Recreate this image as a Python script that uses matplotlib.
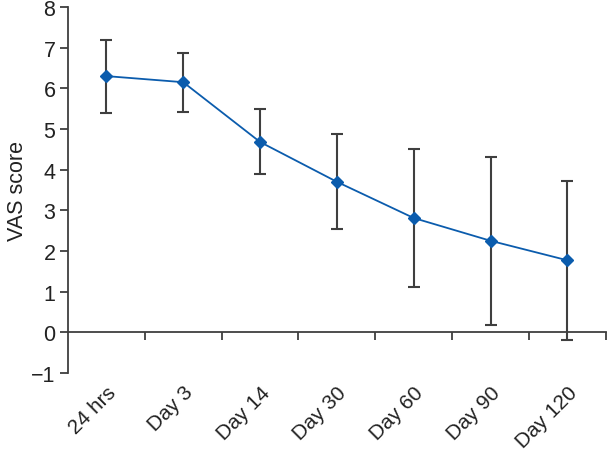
import matplotlib
matplotlib.use("Agg")
import matplotlib.pyplot as plt
import numpy as np

categories = ["24 hrs", "Day 3", "Day 14", "Day 30", "Day 60", "Day 90", "Day 120"]
means = [6.30, 6.15, 4.68, 3.70, 2.81, 2.25, 1.77]
errors = [0.90, 0.73, 0.80, 1.17, 1.70, 2.06, 1.95]
yticks = [-1, 0, 1, 2, 3, 4, 5, 6, 7, 8]

plt.rcParams['font.family'] = ['Liberation Sans', 'DejaVu Sans']

fig = plt.figure(figsize=(6.07, 4.56), dpi=100)
ax = fig.add_axes([0.112, 0.18, 0.886, 0.8025])

x = np.arange(len(categories))
gray = '#3f3f3f'
ax.errorbar(x, means, yerr=errors, fmt='none', ecolor=gray, elinewidth=1.5,
            capsize=4.5, capthick=1.5, zorder=2)
ax.plot(x, means, color='#0b5cad', lw=1.3, marker='D', markersize=6.5,
        markerfacecolor='#0b5cad', markeredgecolor='#0b5cad', zorder=3)

ax.set_xlim(-0.5, len(categories) - 0.5)
ax.set_ylim(-1, 8)
ax.set_yticks(yticks)
ax.set_yticklabels([str(v).replace('-', '\u2212') for v in yticks])

ax.spines['top'].set_visible(False)
ax.spines['right'].set_visible(False)
ax.spines['bottom'].set_position(('data', 0))
for s in ['left', 'bottom']:
    ax.spines[s].set_color(gray)
    ax.spines[s].set_linewidth(1.3)

ax.set_xticks(x)
ax.set_xticklabels(categories, rotation=45, ha='right', rotation_mode='anchor')
ax.set_xticks(np.arange(0.5, len(categories), 1.0), minor=True)
ax.tick_params(axis='x', which='major', length=0, pad=36, labelsize=15, colors='#222222')
ax.tick_params(axis='x', which='minor', length=6, width=1.3, color=gray, direction='out')
ax.tick_params(axis='y', length=6, width=1.3, color=gray, labelsize=15.5, labelcolor='#222222', pad=3)

ax.set_ylabel('VAS score', fontsize=15.5, color='#222222', labelpad=2)

fig.savefig('out.png', dpi=100)
